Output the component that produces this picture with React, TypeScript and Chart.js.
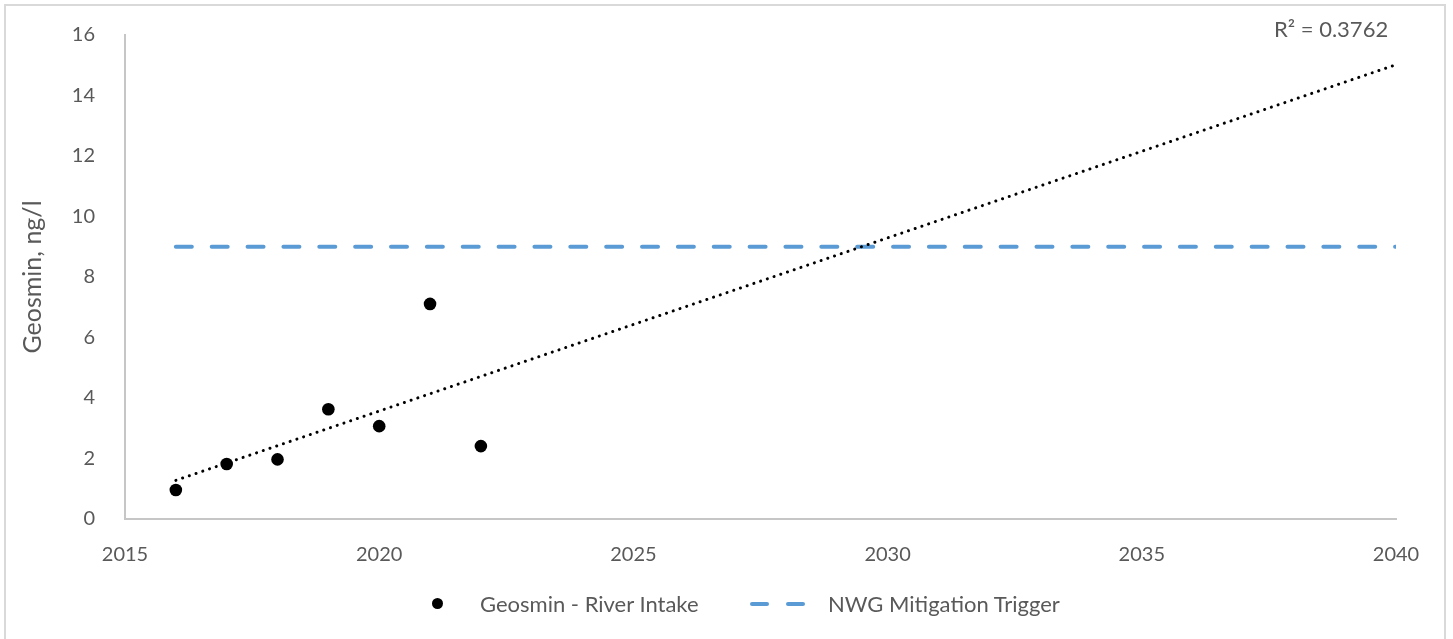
import React, { useEffect, useRef } from "react";
import { Chart, registerables } from "chart.js";

Chart.register(...registerables);

// ---- data ----
const years = [2016, 2017, 2018, 2019, 2020, 2021, 2022];
const geosmin = [0.96, 1.82, 1.97, 3.63, 3.07, 7.11, 2.41];
const triggerYears = [2016, 2040];
const triggerLevel = 9;
const trendYears = [2016, 2040];
const xTicks = [2015, 2020, 2025, 2030, 2035, 2040];
const yTicks = [0, 2, 4, 6, 8, 10, 12, 14, 16];
const seriesLabels = ["Geosmin - River Intake", "NWG Mitigation Trigger"];
const yTitle = "Geosmin, ng/l";
const r2Label = "R\u00B2 = 0.3762";

const FONT = "Lato, 'Open Sans', sans-serif";
const TEXT = "#595959";
const BLUE = "#5B9BD5";

function linearFit(xs: number[], ys: number[]) {
  const n = xs.length;
  const mx = xs.reduce((a, b) => a + b, 0) / n;
  const my = ys.reduce((a, b) => a + b, 0) / n;
  let num = 0;
  let den = 0;
  for (let i = 0; i < n; i++) {
    num += (xs[i] - mx) * (ys[i] - my);
    den += (xs[i] - mx) * (xs[i] - mx);
  }
  const slope = num / den;
  return (x: number) => my + slope * (x - mx);
}

export default function App() {
  const ref = useRef<HTMLCanvasElement | null>(null);

  useEffect(() => {
    if (!ref.current) return;
    const fit = linearFit(years, geosmin);
    const chart = new Chart(ref.current, {
      type: "scatter",
      data: {
        datasets: [
          {
            label: seriesLabels[0],
            data: years.map((x, i) => ({ x, y: geosmin[i] })),
            backgroundColor: "#000000",
            borderColor: "#000000",
            borderWidth: 0,
            pointRadius: 6.3,
            order: 1,
          },
          {
            label: "Linear trend",
            data: trendYears.map((x) => ({ x, y: fit(x) })),
            showLine: true,
            borderColor: "#000000",
            borderWidth: 3,
            borderDash: [0.1, 7],
            borderCapStyle: "round",
            pointRadius: 0,
            fill: false,
            order: 2,
          },
          {
            label: seriesLabels[1],
            data: triggerYears.map((x) => ({ x, y: triggerLevel })),
            showLine: true,
            borderColor: BLUE,
            borderWidth: 4,
            borderDash: [16, 19.86],
            borderCapStyle: "round",
            pointRadius: 0,
            fill: false,
            order: 3,
          },
        ],
      },
      options: {
        animation: false,
        responsive: false,
        maintainAspectRatio: false,
        layout: { padding: { left: 0, top: 35, right: 57, bottom: 0 } },
        plugins: {
          legend: { display: false },
          tooltip: { enabled: false },
        },
        scales: {
          x: {
            type: "linear",
            min: xTicks[0],
            max: xTicks[xTicks.length - 1],
            afterBuildTicks: (s: any) => {
              s.ticks = xTicks.map((v) => ({ value: v }));
            },
            afterFit: (s: any) => {
              s.height = 120;
            },
            grid: { display: false },
            border: { display: true, color: "#C6C6C6", width: 2 },
            ticks: {
              color: TEXT,
              font: { family: FONT, size: 20 },
              padding: 16,
              maxRotation: 0,
              callback: (v: any) => String(v),
            },
          },
          y: {
            type: "linear",
            min: yTicks[0],
            max: yTicks[yTicks.length - 1],
            afterBuildTicks: (s: any) => {
              s.ticks = yTicks.map((v) => ({ value: v }));
            },
            afterFit: (s: any) => {
              s.width = 125;
            },
            grid: { display: false },
            border: { display: true, color: "#C6C6C6", width: 2 },
            ticks: {
              color: TEXT,
              font: { family: FONT, size: 20 },
              padding: 22,
              callback: (v: any) => String(v),
            },
            title: {
              display: true,
              text: yTitle,
              color: TEXT,
              font: { family: FONT, size: 25 },
              padding: { top: 18, bottom: 0 },
            },
          },
        },
      },
    });
    return () => chart.destroy();
  }, []);

  return (
    <div
      style={{
        position: "fixed",
        left: 0,
        top: 0,
        width: 1453,
        height: 639,
        background: "#ffffff",
        overflow: "hidden",
        fontFamily: FONT,
      }}
    >
      <div
        style={{
          position: "absolute",
          left: 4,
          top: 4,
          width: 1442,
          height: 640,
          border: "2px solid #D9D9D9",
          boxSizing: "border-box",
        }}
      />
      <canvas
        ref={ref}
        width={1453}
        height={639}
        style={{ position: "absolute", left: 0, top: 0, width: 1453, height: 639 }}
      />
      <div
        style={{
          position: "absolute",
          left: 1274,
          top: 16,
          fontSize: 22,
          color: TEXT,
          whiteSpace: "nowrap",
          lineHeight: "26px",
        }}
      >
        {r2Label}
      </div>
      <div
        style={{
          position: "absolute",
          left: 0,
          top: 591,
          width: 1453,
          height: 26,
          fontSize: 22,
          lineHeight: "26px",
          color: TEXT,
        }}
      >
        <div
          style={{
            position: "absolute",
            left: 432,
            top: 7,
            width: 11,
            height: 11,
            borderRadius: "50%",
            background: "#000",
          }}
        />
        <div style={{ position: "absolute", left: 480, top: 0, whiteSpace: "nowrap" }}>
          {seriesLabels[0]}
        </div>
        <div
          style={{
            position: "absolute",
            left: 750,
            top: 11,
            width: 19,
            height: 4,
            borderRadius: 2,
            background: BLUE,
          }}
        />
        <div
          style={{
            position: "absolute",
            left: 786,
            top: 11,
            width: 19,
            height: 4,
            borderRadius: 2,
            background: BLUE,
          }}
        />
        <div style={{ position: "absolute", left: 828, top: 0, whiteSpace: "nowrap" }}>
          {seriesLabels[1]}
        </div>
      </div>
    </div>
  );
}
